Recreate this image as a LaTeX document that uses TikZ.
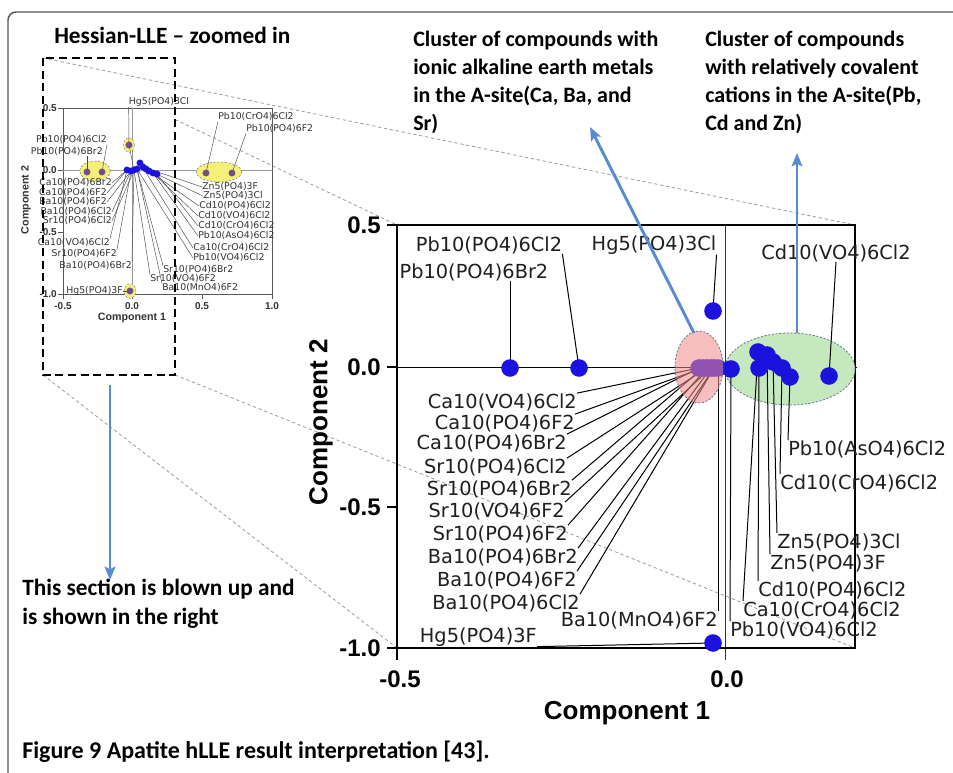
\documentclass[tikz,border=0pt]{standalone}
\usepackage{fontspec}
\setmainfont{Carlito}
\newfontfamily\plotfont{DejaVu Sans}
\newfontfamily\axisfont{Liberation Sans}
\usetikzlibrary{arrows.meta}

\definecolor{dotblue}{RGB}{28,18,222}
\definecolor{pinkfill}{RGB}{242,137,137}
\definecolor{greenfill}{RGB}{198,232,190}
\definecolor{yellowfill}{RGB}{246,240,120}
\definecolor{dotpurple}{RGB}{112,78,138}
\definecolor{arrowblue}{RGB}{88,140,210}
\definecolor{guidegray}{RGB}{150,156,168}
\definecolor{framegray}{RGB}{85,85,85}
\definecolor{ellipseedge}{RGB}{105,118,150}

\tikzset{
  lbl/.style={font=\plotfont\fontsize{14.5}{17}\selectfont, inner sep=0pt, text=black!88},
  slbl/.style={font=\plotfont\fontsize{7}{8}\selectfont, inner sep=0pt, text=black!80},
  leader/.style={black, line width=0.75pt},
  sleader/.style={black!70, line width=0.35pt},
  ticklbl/.style={font=\axisfont\bfseries\fontsize{18}{21}\selectfont, inner sep=0pt},
  axislbl/.style={font=\axisfont\bfseries\fontsize{19.5}{23}\selectfont, inner sep=0pt},
  sticklbl/.style={font=\axisfont\bfseries\fontsize{7.5}{9}\selectfont, inner sep=0pt, text=black!80},
  saxislbl/.style={font=\axisfont\bfseries\fontsize{8}{9}\selectfont, inner sep=0pt, text=black!80},
  note/.style={font=\bfseries\fontsize{16.5}{21}\selectfont, inner sep=0pt, align=left},
  guide/.style={guidegray, line width=0.6pt, dash pattern=on 2.5pt off 2pt},
  zoombox/.style={black, line width=2.2pt, dash pattern=on 6pt off 3.5pt},
  clusteredge/.style={draw=ellipseedge, line width=0.6pt, dash pattern=on 1.6pt off 1.2pt},
  bluearrow/.style={arrowblue, line width=2.2pt, -{Stealth[length=10pt,width=8pt,inset=2pt]}},
}

\begin{document}
\begin{tikzpicture}[x=0.75pt,y=-0.75pt]
\useasboundingbox (0,0) rectangle (953,773);
\fill[white] (0,0) rectangle (953,773);

% page frame
\draw[framegray, line width=1.1pt, rounded corners=6pt] (953,12) -- (8,12) -- (8,773);

% corners of the zoom box and of the enlarged plot
\coordinate (boxTL) at (43,58);
\coordinate (boxTR) at (175,58);
\coordinate (boxBL) at (43,375);
\coordinate (boxBR) at (175,375);
\coordinate (boxR) at (175,119.5);
\coordinate (boxArrow) at (110,385);
\coordinate (plotTL) at (397,225);
\coordinate (plotTR) at (855,225);
\coordinate (plotBL) at (397,648);
\coordinate (plotBR) at (855,648);

% projection guides
\draw[guide] (boxTL) -- (plotTR);
\draw[guide] (boxR) -- (plotTL);
\draw[guide] (boxBL) -- (plotBL);
\draw[guide] (boxBR) -- (plotBR);

% ================= small overview plot =================
\node[note, font=\bfseries\fontsize{17.5}{20}\selectfont, anchor=west] (title) at (54,35) {Hessian-LLE – zoomed in};

\draw[black!65, line width=0.5pt] (63,108) rectangle (272,294);
\draw[black!40, line width=0.4pt] (63,170) -- (272,170);
\draw[black!40, line width=0.4pt] (132,108) -- (132,294);
\foreach \yy in {108,170,232,294} \draw[black!65, line width=0.5pt] (58,\yy) -- (63,\yy);
\foreach \xx in {63,132,202,272} \draw[black!65, line width=0.5pt] (\xx,294) -- (\xx,299);
\node[sticklbl, anchor=east] (iy1) at (57,108) {0.5};
\node[sticklbl, anchor=east] (iy2) at (57,170) {0.0};
\node[sticklbl, anchor=east] (iy3) at (57,232) {-0.5};
\node[sticklbl, anchor=east] (iy4) at (57,294) {-1.0};
\node[sticklbl] (ix1) at (63,306) {-0.5};
\node[sticklbl] (ix2) at (132,306) {0.0};
\node[sticklbl] (ix3) at (202,306) {0.5};
\node[sticklbl] (ix4) at (272,306) {1.0};
\node[saxislbl, rotate=90] (iyl) at (26,200) {Component 2};
\node[saxislbl] (ixl) at (132,318) {Component 1};

% overview points
\coordinate (ip1) at (87,172);
\coordinate (ip2) at (102,172);
\coordinate (ip3) at (206,173);
\coordinate (ip4) at (232,173);
\coordinate (ip5) at (129,145);
\coordinate (ip6) at (130,291);
\coordinate (ib1) at (127,170);
\coordinate (ib2) at (131,171);
\coordinate (ib3) at (134,170);
\coordinate (ib4) at (137,169);
\coordinate (ib5) at (140,163);
\coordinate (ib6) at (143,167);
\coordinate (ib7) at (146,169);
\coordinate (ib8) at (149,171);
\coordinate (ib9) at (153,173);
\coordinate (ib10) at (157,174);

\fill[yellowfill] (95,171) ellipse [x radius=11.5pt, y radius=7.5pt];
\draw[clusteredge, line width=0.35pt] (95,171) ellipse [x radius=11.5pt, y radius=7.5pt];
\fill[yellowfill] (219,172) ellipse [x radius=17pt, y radius=7.5pt];
\draw[clusteredge, line width=0.35pt] (219,172) ellipse [x radius=17pt, y radius=7.5pt];
\fill[yellowfill] (ip5) ellipse [x radius=4pt, y radius=5.5pt];
\draw[clusteredge, line width=0.35pt] (ip5) ellipse [x radius=4pt, y radius=5.5pt];
\fill[yellowfill] (ip6) ellipse [x radius=4.5pt, y radius=5.5pt];
\draw[clusteredge, line width=0.35pt] (ip6) ellipse [x radius=4.5pt, y radius=5.5pt];

% overview labels
\node[slbl] (iHgCl) at (159,102) {Hg5(PO4)3Cl};
\node[slbl, anchor=west] (iPbCr) at (218,117) {Pb10(CrO4)6Cl2};
\node[slbl, anchor=west] (iPbF) at (246,129) {Pb10(PO4)6F2};
\node[slbl, anchor=east] (iPbCl) at (107,140) {Pb10(PO4)6Cl2};
\node[slbl, anchor=east] (iPbBr) at (103,152) {Pb10(PO4)6Br2};

\node[slbl, anchor=east] (iCaBr) at (112,183) {Ca10(PO4)6Br2};
\node[slbl, anchor=east] (iCaF) at (107,193) {Ca10(PO4)6F2};
\node[slbl, anchor=east] (iBaF) at (107,202) {Ba10(PO4)6F2};
\node[slbl, anchor=east] (iBaCl) at (112,212) {Ba10(PO4)6Cl2};
\node[slbl, anchor=east] (iSrCl) at (112,221) {Sr10(PO4)6Cl2};
\node[slbl, anchor=east] (iCaV) at (110,243) {Ca10(VO4)6Cl2};
\node[slbl, anchor=east] (iSrF) at (117,254) {Sr10(PO4)6F2};
\node[slbl, anchor=east] (iBaBr) at (132,266) {Ba10(PO4)6Br2};
\node[slbl, anchor=east] (iHgF) at (123,291) {Hg5(PO4)3F};
\node[slbl, anchor=west] (iSrBr) at (163,270) {Sr10(PO4)6Br2};
\node[slbl, anchor=west] (iSrVF) at (150,279) {Sr10(VO4)6F2};
\node[slbl, anchor=west] (iBaMn) at (162,288) {Ba10(MnO4)6F2};

\node[slbl, anchor=west] (iZnF) at (202,187) {Zn5(PO4)3F};
\node[slbl, anchor=west] (iZnCl) at (203,196) {Zn5(PO4)3Cl};
\node[slbl, anchor=west] (iCdP) at (199,206) {Cd10(PO4)6Cl2};
\node[slbl, anchor=west] (iCdV) at (198,216) {Cd10(VO4)6Cl2};
\node[slbl, anchor=west] (iCdCr) at (198,226) {Cd10(CrO4)6Cl2};
\node[slbl, anchor=west] (iPbAs) at (198,236) {Pb10(AsO4)6Cl2};
\node[slbl, anchor=west] (iCaCr) at (193,248) {Ca10(CrO4)6Cl2};
\node[slbl, anchor=west] (iPbV) at (193,258) {Pb10(VO4)6Cl2};

% overview leaders
\draw[sleader] (iHgCl.south west) -- (ip5);
\draw[sleader] (iPbCr.south west) -- (ip3);
\draw[sleader] (iPbF.south west) -- (ip4);
\draw[sleader] (iPbCl.south east) -- (ip2);
\draw[sleader] (iPbBr.south -| ip1) -- (ip1);
\draw[sleader] (iCaBr.east) -- (ib1);
\draw[sleader] (iCaF.east) -- (ib1);
\draw[sleader] (iBaF.east) -- (ib2);
\draw[sleader] (iBaCl.east) -- (ib2);
\draw[sleader] (iSrCl.east) -- (ib3);
\draw[sleader] (iCaV.north east) -- (ib1);
\draw[sleader] (iSrF.north east) -- (ib2);
\draw[sleader] (iBaBr.north east) -- (ib3);
\draw[sleader] (iHgF.east) -- (ip6);
\draw[sleader] (iSrBr.north west) -- (ib4);
\draw[sleader] (iSrVF.north west) -- (ib3);
\draw[sleader] (iBaMn.north west) -- (ib4);
\draw[sleader] (iZnF.west) -- (ib6);
\draw[sleader] (iZnCl.west) -- (ib7);
\draw[sleader] (iCdP.west) -- (ib8);
\draw[sleader] (iCdV.west) -- (ib9);
\draw[sleader] (iCdCr.west) -- (ib10);
\draw[sleader] (iPbAs.west) -- (ib9);
\draw[sleader] (iCaCr.west) -- (ib5);
\draw[sleader] (iPbV.west) -- (ib4);
\draw[sleader] (ip5) -- (ib3);

\foreach \p in {ip1,ip2,ip3,ip4,ip5,ip6} \fill[dotpurple] (\p) circle[radius=2.6pt];
\foreach \p in {ib1,ib2,ib3,ib4,ib5,ib6,ib7,ib8,ib9,ib10} \fill[dotblue] (\p) circle[radius=2.6pt];

% the dashed zoom window
\draw[zoombox] (boxTL) rectangle (boxBR);

% ================= enlarged plot =================
\draw[black, line width=0.6pt] (387,367) -- (857,367);
\draw[black!80, line width=0.6pt] (725,225) -- (725,660);
\draw[black, line width=1.5pt] (plotTL) rectangle (plotBR);
\foreach \yy in {225,367,507,648} \draw[black, line width=1pt] (387,\yy) -- (397,\yy);
\draw[black, line width=1pt] (397,648) -- (397,660);

\node[ticklbl, anchor=east] (y1) at (381,225) {0.5};
\node[ticklbl, anchor=east] (y2) at (381,367) {0.0};
\node[ticklbl, anchor=east] (y3) at (381,507) {-0.5};
\node[ticklbl, anchor=east] (y4) at (381,648) {-1.0};
\node[ticklbl] (x1) at (400,679) {-0.5};
\node[ticklbl] (x2) at (727,679) {0.0};
\node[axislbl, rotate=90] (ylab) at (321,422) {Component 2};
\node[axislbl] (xlab) at (627,713) {Component 1};

% cluster of covalent A-site cations (behind points)
\coordinate (greenC) at (790,369);
\fill[greenfill] (greenC) ellipse [x radius=48.75pt, y radius=27pt];
\draw[clusteredge] (greenC) ellipse [x radius=48.75pt, y radius=27pt];

% data points
\coordinate (pbbr) at (510,368);
\coordinate (pbcl) at (579,368);
\coordinate (hgcl) at (713,311);
\coordinate (cdv) at (829,376);
\coordinate (hgf) at (713,643);
\coordinate (r1) at (699,368);
\coordinate (r2) at (703,368);
\coordinate (r3) at (707,368);
\coordinate (r4) at (711,368);
\coordinate (r5) at (714,368);
\coordinate (r6) at (718,368);
\coordinate (g1) at (758,352);
\coordinate (g2) at (767,355);
\coordinate (g3) at (773,362);
\coordinate (g4) at (759,368);
\coordinate (g5) at (782,368);
\coordinate (g6) at (790,377);
\coordinate (pbv) at (731,369);

% compound labels
\node[lbl] (PbBr) at (474,272) {Pb10(PO4)6Br2};
\node[lbl] (PbCl) at (489,245) {Pb10(PO4)6Cl2};
\node[lbl] (HgCl) at (654,245) {Hg5(PO4)3Cl};
\node[lbl] (CdV) at (836,253) {Cd10(VO4)6Cl2};

\node[lbl, anchor=east] (CaV) at (577,402) {Ca10(VO4)6Cl2};
\node[lbl, anchor=east] (CaF) at (575,423) {Ca10(PO4)6F2};
\node[lbl, anchor=east] (CaBr) at (567,443) {Ca10(PO4)6Br2};
\node[lbl, anchor=east] (SrCl) at (567,467) {Sr10(PO4)6Cl2};
\node[lbl, anchor=east] (SrBr) at (572,489) {Sr10(PO4)6Br2};
\node[lbl, anchor=east] (SrVF) at (565,511) {Sr10(VO4)6F2};
\node[lbl, anchor=east] (SrF) at (568,534) {Sr10(PO4)6F2};
\node[lbl, anchor=east] (BaBr) at (578,557) {Ba10(PO4)6Br2};
\node[lbl, anchor=east] (BaF) at (577,580) {Ba10(PO4)6F2};
\node[lbl, anchor=east] (BaCl) at (580,603) {Ba10(PO4)6Cl2};
\node[lbl, anchor=east] (BaMn) at (718,620) {Ba10(MnO4)6F2};
\node[lbl, anchor=east] (HgF) at (537,637) {Hg5(PO4)3F};

\node[lbl, anchor=west] (PbAs) at (788,449) {Pb10(AsO4)6Cl2};
\node[lbl, anchor=west] (CdCr) at (780,483) {Cd10(CrO4)6Cl2};
\node[lbl, anchor=west] (ZnCl) at (777,542) {Zn5(PO4)3Cl};
\node[lbl, anchor=west] (ZnF) at (770,563) {Zn5(PO4)3F};
\node[lbl, anchor=west] (CdP) at (758,590) {Cd10(PO4)6Cl2};
\node[lbl, anchor=west] (CaCr) at (743,610) {Ca10(CrO4)6Cl2};
\node[lbl, anchor=west] (PbV) at (730,630) {Pb10(VO4)6Cl2};

% leaders
\draw[leader] (PbBr.south -| pbbr) -- (pbbr);
\draw[leader] (PbCl.south east) -- (pbcl);
\draw[leader] (HgCl.south east) -- (hgcl);
\draw[leader] (CdV.south) -- (cdv);
\draw[leader] (CaV.north east) -- (r1);
\draw[leader] (CaF.north east) -- (r2);
\draw[leader] (CaBr.north east) -- (r1);
\draw[leader] (SrCl.north east) -- (r3);
\draw[leader] (SrBr.north east) -- (r2);
\draw[leader] (SrVF.north east) -- (r4);
\draw[leader] (SrF.north east) -- (r3);
\draw[leader] (BaBr.north east) -- (r4);
\draw[leader] (BaF.north east) -- (r5);
\draw[leader] (BaCl.north east) -- (r5);
\draw[leader] (BaMn.north east) -- (r6);
\draw[leader] (HgF.south east) -- (hgf);
\draw[leader] (PbAs.north west) -- (g6);
\draw[leader] (CdCr.north west) -- (g5);
\draw[leader] (ZnCl.north west) -- (g3);
\draw[leader] (ZnF.north west) -- (g2);
\draw[leader] (CdP.north west) -- (g4);
\draw[leader] (CaCr.north west) -- (g1);
\draw[leader] (PbV.north west) -- (pbv);

\foreach \p in {pbbr,pbcl,hgcl,cdv,hgf,r1,r2,r3,r4,r5,r6,g1,g2,g3,g4,g5,g6,pbv}
  \fill[dotblue] (\p) circle[radius=6.6pt];

% cluster of ionic alkaline earth cations (tinted over its points)
\coordinate (pinkC) at (699,367);
\fill[pinkfill, fill opacity=0.55] (pinkC) ellipse [x radius=18pt, y radius=27pt];
\draw[clusteredge] (pinkC) ellipse [x radius=18pt, y radius=27pt];

% annotations
\coordinate (pinkTop) at (694,333);
\coordinate (greenTop) at (797,333);
\coordinate (tipA) at (590,127);
\coordinate (tipB) at (797,153);
\coordinate (tipC) at (110,580);
\node[note, anchor=north west] (clusterA) at (413,31) {Cluster of compounds with\\ionic alkaline earth metals\\in the A-site(Ca, Ba, and\\Sr)};
\node[note, anchor=north west] (clusterB) at (705,31) {Cluster of compounds\\with relatively covalent\\cations in the A-site(Pb,\\Cd and Zn)};
\node[note, font=\bfseries\fontsize{17.5}{21.75}\selectfont, anchor=north west] (blown) at (22,579) {This section is blown up and\\is shown in the right};
\node[note, font=\bfseries\fontsize{18}{21}\selectfont, anchor=west] (caption) at (22,752) {Figure 9 Apatite hLLE result interpretation [43].};

\draw[bluearrow] (pinkTop) -- (tipA);
\draw[bluearrow] (greenTop) -- (tipB);
\draw[bluearrow] (boxArrow) -- (tipC);
\end{tikzpicture}
\end{document}
